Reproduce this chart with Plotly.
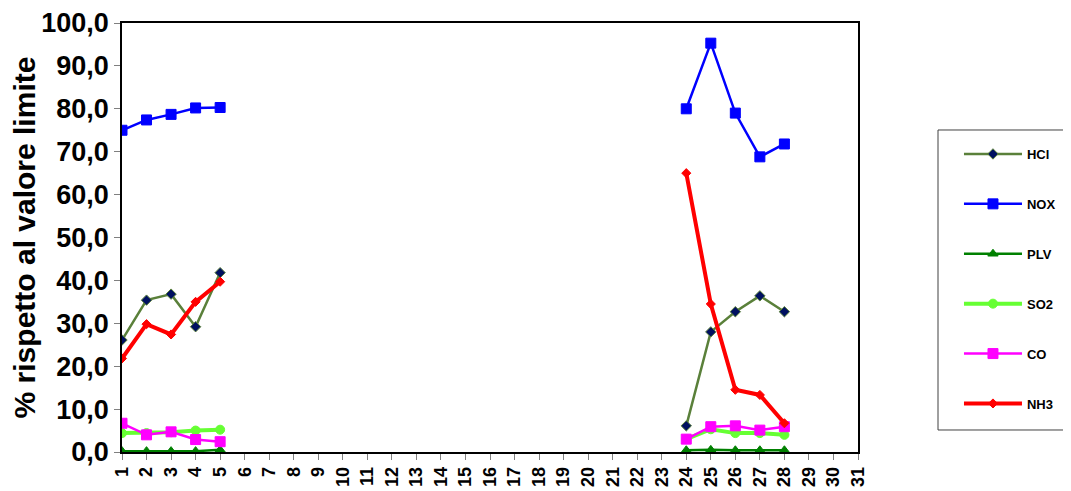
import plotly.graph_objects as go

# giorni del mese (asse categorie)
days = list(range(1, 32))

# valori: giorni 1-5 e 24-28, il resto vuoto
gap = [None] * 18
tail = [None] * 3

hcl = [26.1, 35.4, 36.8, 29.2, 41.8] + gap + [6.1, 28.0, 32.7, 36.4, 32.7] + tail
nox = [75.0, 77.4, 78.7, 80.2, 80.3] + gap + [80.0, 95.3, 79.0, 68.8, 71.8] + tail
plv = [0.2, 0.2, 0.2, 0.2, 0.5] + gap + [0.4, 0.5, 0.4, 0.4, 0.4] + tail
so2 = [4.4, 4.4, 4.6, 5.0, 5.2] + gap + [3.0, 5.3, 4.4, 4.4, 4.0] + tail
co = [6.7, 4.0, 4.7, 2.9, 2.4] + gap + [3.0, 5.9, 6.1, 5.1, 5.9] + tail
nh3 = [21.8, 29.8, 27.4, 35.0, 39.7] + gap + [65.0, 34.5, 14.5, 13.3, 6.7] + tail

y_ticks = [0, 10, 20, 30, 40, 50, 60, 70, 80, 90, 100]


def add_series(fig, name, values, line_color, width, symbol, msize, mcolor, mline=None):
    fig.add_trace(go.Scatter(
        x=days, y=values, name=name, legendgroup=name,
        mode="lines+markers",
        line=dict(color=line_color, width=width),
        marker=dict(symbol=symbol, size=msize, color=mcolor,
                    line=dict(color=mline or mcolor, width=1)),
        connectgaps=False,
    ))


fig = go.Figure()
add_series(fig, "HCl", hcl, "#5A803A", 2.5, "diamond", 8, "#001060", "#5A803A")
add_series(fig, "NOX", nox, "#0000FF", 2.5, "square", 10, "#0000FF")
add_series(fig, "PLV", plv, "#008000", 2.5, "triangle-up", 9, "#008000")
add_series(fig, "SO2", so2, "#66FF33", 4, "circle", 9, "#66FF33")
add_series(fig, "CO", co, "#FF00FF", 2.5, "square", 10, "#FF00FF")
add_series(fig, "NH3", nh3, "#FF0000", 4, "diamond", 7, "#FF0000")

# riquadro della legenda (disegnato a parte per avere il margine interno)
fig.add_shape(type="rect", xref="paper", yref="paper",
              x0=1.1087, x1=1.2853, y0=0.0513, y1=0.7506,
              line=dict(color="#404040", width=1), fillcolor="rgba(0,0,0,0)")

fig.update_layout(
    width=1071, height=491,
    paper_bgcolor="white", plot_bgcolor="white",
    font=dict(family="Liberation Sans, Arial, sans-serif", color="black"),
    separators=",.",
    margin=dict(l=114, r=221, t=15, b=47, autoexpand=False),
    showlegend=True,
    legend=dict(
        x=1.1372, y=0.7296, xanchor="left", yanchor="top",
        borderwidth=0, bgcolor="rgba(0,0,0,0)",
        font=dict(size=13, family="Liberation Sans, Arial, sans-serif", weight="bold"),
        tracegroupgap=30, itemwidth=58,
        entrywidth=100,
    ),
    xaxis=dict(
        range=[1, 31], tickmode="array", tickvals=days,
        ticktext=[str(d) for d in days],
        tickangle=-90, ticks="outside", ticklen=6, tickcolor="#808080",
        tickfont=dict(size=18, weight="bold"),
        showgrid=False, zeroline=False, automargin=False,
        showline=True, linecolor="black", linewidth=1.5,
        mirror=True,
    ),
    yaxis=dict(
        range=[0, 100], tickmode="array", tickvals=y_ticks,
        tickformat=".1f", ticks="outside", ticklen=6, tickcolor="#808080",
        tickfont=dict(size=27, weight="bold"),
        showgrid=False, zeroline=False, automargin=False,
        showline=True, linecolor="black", linewidth=1.5,
        mirror=True,
        title=dict(text="% rispetto al valore limite",
                   font=dict(size=30, weight="bold"), standoff=2),
    ),
)

fig.write_html("out.html")
